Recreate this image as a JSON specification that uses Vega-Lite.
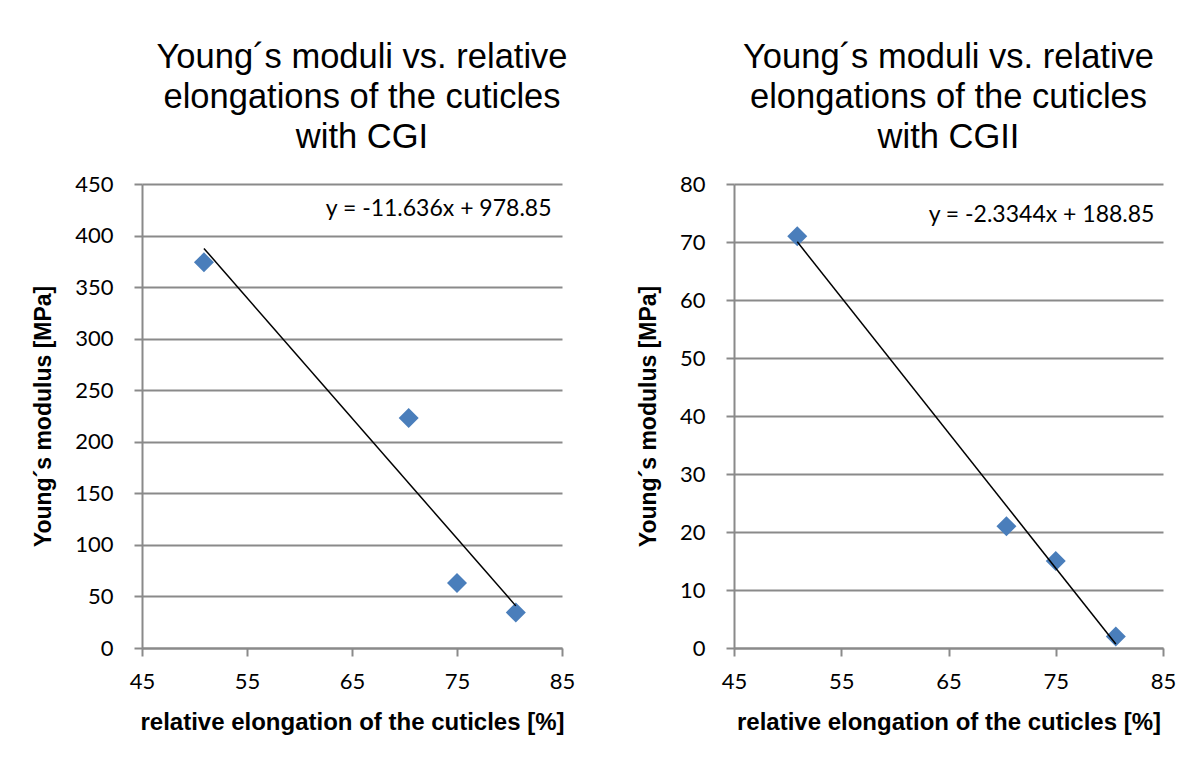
{
  "$schema": "https://vega.github.io/schema/vega-lite/v6.json",
  "background": "white",
  "padding": {"left": 32, "top": 39, "right": 5, "bottom": 5},
  "datasets": {
    "cgi": [
      {"elongation": 50.9, "modulus": 374},
      {"elongation": 70.4, "modulus": 223},
      {"elongation": 75.0, "modulus": 63},
      {"elongation": 80.6, "modulus": 34.5}
    ],
    "cgii": [
      {"elongation": 50.9, "modulus": 71},
      {"elongation": 70.4, "modulus": 21},
      {"elongation": 75.0, "modulus": 15},
      {"elongation": 80.6, "modulus": 2}
    ]
  },
  "spacing": 62,
  "hconcat": [
    {
      "width": 420,
      "height": 464,
      "title": {"text": ["Young´s moduli vs. relative", "elongations of the cuticles", "with CGI"], "dx": 10},
      "data": {"name": "cgi"},
      "layer": [
        {
          "mark": {"type": "point", "shape": "diamond", "filled": true, "size": 400, "color": "#4a7ebb", "opacity": 1},
          "encoding": {
            "x": {"field": "elongation", "type": "quantitative", "scale": {"domain": [45, 85], "nice": false, "zero": false}, "axis": {"values": [45, 55, 65, 75, 85]}, "title": "relative elongation of the cuticles [%]"},
            "y": {"field": "modulus", "type": "quantitative", "scale": {"domain": [0, 450], "nice": false}, "axis": {"values": [0, 50, 100, 150, 200, 250, 300, 350, 400, 450]}, "title": "Young´s modulus [MPa]"}
          }
        },
        {
          "transform": [{"regression": "modulus", "on": "elongation"}],
          "mark": {"type": "line", "color": "black", "strokeWidth": 1.5},
          "encoding": {
            "x": {"field": "elongation", "type": "quantitative"},
            "y": {"field": "modulus", "type": "quantitative"}
          }
        },
        {
          "data": {"values": [{"label": "y = -11.636x + 978.85"}]},
          "mark": {"type": "text", "align": "right", "baseline": "middle", "font": "Lato", "fontSize": 23, "color": "black"},
          "encoding": {
            "x": {"datum": 84},
            "y": {"datum": 426},
            "text": {"field": "label"}
          }
        }
      ]
    },
    {
      "width": 429,
      "height": 464,
      "title": {"text": ["Young´s moduli vs. relative", "elongations of the cuticles", "with CGII"]},
      "data": {"name": "cgii"},
      "layer": [
        {
          "mark": {"type": "point", "shape": "diamond", "filled": true, "size": 400, "color": "#4a7ebb", "opacity": 1},
          "encoding": {
            "x": {"field": "elongation", "type": "quantitative", "scale": {"domain": [45, 85], "nice": false, "zero": false}, "axis": {"values": [45, 55, 65, 75, 85]}, "title": "relative elongation of the cuticles [%]"},
            "y": {"field": "modulus", "type": "quantitative", "scale": {"domain": [0, 80], "nice": false}, "axis": {"values": [0, 10, 20, 30, 40, 50, 60, 70, 80]}, "title": "Young´s modulus [MPa]"}
          }
        },
        {
          "transform": [{"regression": "modulus", "on": "elongation"}],
          "mark": {"type": "line", "color": "black", "strokeWidth": 1.5},
          "encoding": {
            "x": {"field": "elongation", "type": "quantitative"},
            "y": {"field": "modulus", "type": "quantitative"}
          }
        },
        {
          "data": {"values": [{"label": "y = -2.3344x + 188.85"}]},
          "mark": {"type": "text", "align": "right", "baseline": "middle", "font": "Lato", "fontSize": 23, "color": "black"},
          "encoding": {
            "x": {"datum": 84.2},
            "y": {"datum": 74.7},
            "text": {"field": "label"}
          }
        }
      ]
    }
  ],
  "config": {
    "view": {"stroke": null},
    "axis": {
      "domainColor": "#8a8a8a", "domainWidth": 2,
      "tickColor": "#8a8a8a", "tickWidth": 2, "tickSize": 8,
      "gridColor": "#8a8a8a", "gridWidth": 2,
      "labelFont": "Lato", "labelFontSize": 22, "labelColor": "black",
      "titleFont": "Liberation Sans", "titleFontSize": 23, "titleFontWeight": "bold", "titleColor": "black"
    },
    "axisX": {"grid": false, "labelPadding": 15, "titlePadding": 18, "labelFlush": false, "titleFontSize": 24},
    "axisY": {"grid": true, "labelPadding": 21, "titlePadding": 19},
    "title": {"font": "Liberation Sans", "fontSize": 34.5, "fontWeight": "normal", "lineHeight": 40, "offset": 18, "anchor": "middle", "color": "black"}
  }
}
